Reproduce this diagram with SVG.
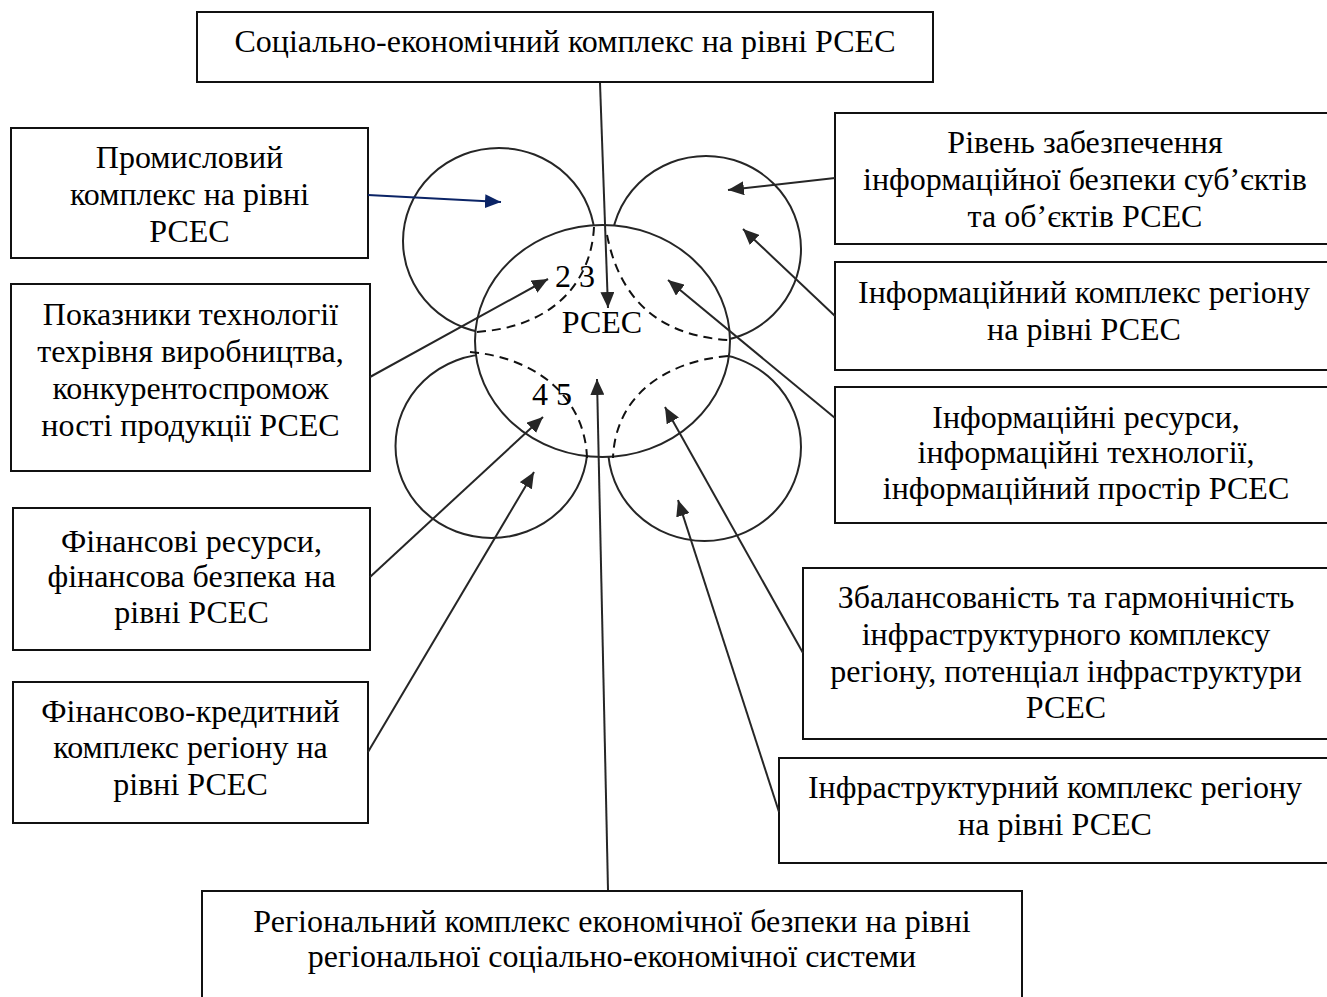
<svg xmlns="http://www.w3.org/2000/svg" width="1327" height="997" viewBox="0 0 1327 997">
<style>
.box{fill:#fff;stroke:#111;stroke-width:2}
.t{font-family:"Liberation Serif","Times New Roman",serif;font-size:32px;fill:#000;text-anchor:middle}
.circ{fill:none;stroke:#262626;stroke-width:2}
.dash{fill:none;stroke:#111;stroke-width:2;stroke-dasharray:9 6}
.ln{stroke:#262626;stroke-width:2;fill:none;marker-end:url(#ah)}
.navy{stroke:#0b2466;stroke-width:2;fill:none;marker-end:url(#ahn)}
</style>
<defs>
<marker id="ah" viewBox="0 0 16 14" refX="16" refY="7" markerWidth="16" markerHeight="14" markerUnits="userSpaceOnUse" orient="auto"><path d="M0,0 L16,7 L0,14 z" fill="#262626"/></marker>
<marker id="ahn" viewBox="0 0 16 14" refX="16" refY="7" markerWidth="16" markerHeight="14" markerUnits="userSpaceOnUse" orient="auto"><path d="M0,0 L16,7 L0,14 z" fill="#0b2466"/></marker>
</defs>
<rect width="1327" height="997" fill="#fff"/>

<g id="circles">
<ellipse class="circ" cx="499" cy="241" rx="96" ry="93"/>
<ellipse class="circ" cx="706" cy="249" rx="95" ry="93"/>
<ellipse class="circ" cx="491.5" cy="446" rx="96" ry="92"/>
<ellipse class="circ" cx="704.5" cy="447" rx="96.5" ry="94"/>
</g>
<g id="center">
<ellipse cx="602.5" cy="341" rx="127.5" ry="116" fill="#fff" stroke="#262626" stroke-width="2"/>
<path class="dash" d="M594,227 C591,285 550,328 475,332"/>
<path class="dash" d="M607,235 C618,290 650,335 728,340"/>
<path class="dash" d="M470,352 C540,358 585,400 587,458"/>
<path class="dash" d="M728,356 C660,362 615,400 613,458"/>
<text class="t" x="575" y="287">2 3</text>
<text class="t" x="602" y="333">РСЕС</text>
<text class="t" x="552" y="405">4 5</text>
</g>

<g id="n-top">
<rect class="box" x="197" y="12" width="736" height="70"/>
<text class="t" x="565" y="52">Соціально-економічний комплекс на рівні РСЕС</text>
</g>
<g id="n-prom">
<rect class="box" x="11" y="128" width="357" height="130"/>
<text class="t" x="189.5" y="168">Промисловий</text>
<text class="t" x="189.5" y="205">комплекс на рівні</text>
<text class="t" x="189.5" y="242">РСЕС</text>
</g>
<g id="n-pokaz">
<rect class="box" x="11" y="284" width="359" height="187"/>
<text class="t" x="190.5" y="325">Показники технології</text>
<text class="t" x="190.5" y="362">техрівня виробництва,</text>
<text class="t" x="190.5" y="399">конкурентоспромож</text>
<text class="t" x="190.5" y="436">ності продукції РСЕС</text>
</g>
<g id="n-fin">
<rect class="box" x="13" y="508" width="357" height="142"/>
<text class="t" x="191.5" y="552">Фінансові ресурси,</text>
<text class="t" x="191.5" y="587">фінансова безпека на</text>
<text class="t" x="191.5" y="623">рівні РСЕС</text>
</g>
<g id="n-finkr">
<rect class="box" x="13" y="682" width="355" height="141"/>
<text class="t" x="190.5" y="722">Фінансово-кредитний</text>
<text class="t" x="190.5" y="758">комплекс регіону на</text>
<text class="t" x="190.5" y="795">рівні РСЕС</text>
</g>
<g id="n-riven">
<rect class="box" x="835" y="113" width="500" height="131"/>
<text class="t" x="1085" y="153">Рівень забезпечення</text>
<text class="t" x="1085" y="190">інформаційної безпеки суб’єктів</text>
<text class="t" x="1085" y="227">та об’єктів РСЕС</text>
</g>
<g id="n-infkompl">
<rect class="box" x="835" y="262" width="500" height="108"/>
<text class="t" x="1084" y="303">Інформаційний комплекс регіону</text>
<text class="t" x="1084" y="340">на рівні РСЕС</text>
</g>
<g id="n-infres">
<rect class="box" x="835" y="387" width="500" height="136"/>
<text class="t" x="1086" y="428">Інформаційні ресурси,</text>
<text class="t" x="1086" y="463">інформаційні технології,</text>
<text class="t" x="1086" y="499">інформаційний простір РСЕС</text>
</g>
<g id="n-zbal">
<rect class="box" x="803" y="568" width="530" height="171"/>
<text class="t" x="1066" y="608">Збалансованість та гармонічність</text>
<text class="t" x="1066" y="645">інфраструктурного комплексу</text>
<text class="t" x="1066" y="682">регіону, потенціал інфраструктури</text>
<text class="t" x="1066" y="718">РСЕС</text>
</g>
<g id="n-infra">
<rect class="box" x="779" y="758" width="552" height="105"/>
<text class="t" x="1055" y="798">Інфраструктурний комплекс регіону</text>
<text class="t" x="1055" y="835">на рівні РСЕС</text>
</g>
<g id="n-bottom">
<rect class="box" x="202" y="891" width="820" height="120"/>
<text class="t" x="612" y="932">Регіональний комплекс економічної безпеки на рівні</text>
<text class="t" x="612" y="967">регіональної соціально-економічної системи</text>
</g>

<g id="connectors">
<line class="ln" x1="600" y1="83" x2="608" y2="308"/>
<line class="navy" x1="368" y1="195" x2="501" y2="202"/>
<line class="ln" x1="835" y1="178" x2="728" y2="190"/>
<line class="ln" x1="835" y1="316" x2="743" y2="229"/>
<line class="ln" x1="835" y1="418" x2="668" y2="280"/>
<line class="ln" x1="370" y1="377" x2="548" y2="279"/>
<line class="ln" x1="370" y1="577" x2="543" y2="417"/>
<line class="ln" x1="368" y1="752" x2="534" y2="472"/>
<line class="ln" x1="608" y1="890" x2="597" y2="379"/>
<line class="ln" x1="803" y1="653" x2="665" y2="407"/>
<line class="ln" x1="779" y1="812" x2="678" y2="500"/>
</g>
</svg>
